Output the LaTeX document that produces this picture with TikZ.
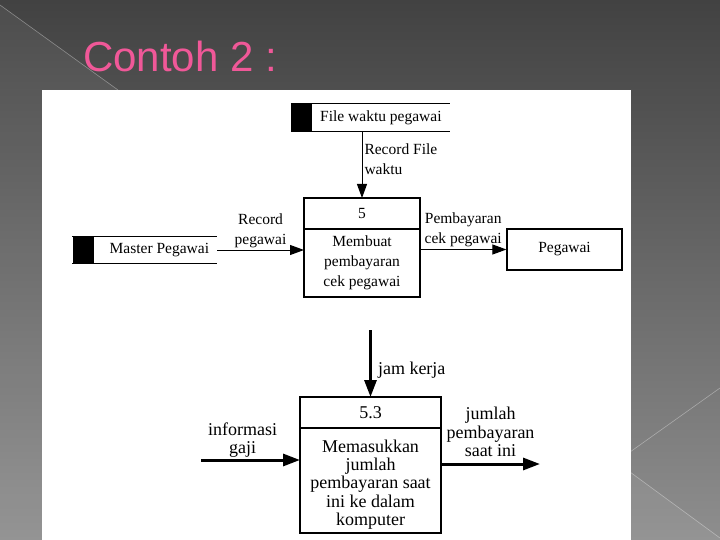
\documentclass[tikz,border=0pt]{standalone}
\usepackage{fontspec}
\setmainfont{Liberation Serif}
\newfontfamily\titlefont{Liberation Sans}
\usepackage{tikz}
\usetikzlibrary{arrows.meta, positioning}
\definecolor{slidetop}{RGB}{66,66,66}
\definecolor{slidebot}{RGB}{142,142,142}
\definecolor{titlepink}{RGB}{240,88,152}
\newcommand{\toptext}{\fontsize{15.5}{20}\selectfont}
\newcommand{\lowtext}{\fontsize{18}{18.3}\selectfont}
\tikzset{
  procid/.style={rectangle, draw, line width=1.2pt, minimum width=116pt,
    minimum height=31pt, font=\toptext, inner sep=0pt, outer sep=0pt},
  procbody/.style={procid, minimum height=68pt, align=center},
  bigid/.style={rectangle, draw, line width=2.5pt, minimum width=141pt,
    minimum height=31pt, font=\lowtext, inner sep=0pt, outer sep=0pt},
  bigbody/.style={bigid, minimum height=105pt},
  storeblk/.style={rectangle, fill=black, minimum width=21pt,
    minimum height=27pt, inner sep=0pt},
  storetxt/.style={rectangle, minimum height=27pt, inner sep=0pt, font=\toptext},
  storeline/.style={line width=1.2pt},
  extent/.style={rectangle, draw, line width=1.2pt, minimum width=115pt,
    minimum height=41pt, font=\toptext},
  flow/.style={-{Triangle[length=14pt,width=10pt]}, line width=1pt},
  bigflow/.style={-{Triangle[length=17pt,width=12pt]}, line width=3pt},
  flowlbl/.style={font=\toptext, align=center, inner sep=2pt},
  lowlbl/.style={font=\lowtext, align=center, inner sep=3pt},
}

\begin{document}
\begin{tikzpicture}[x=1pt, y=-1pt]
  \useasboundingbox (0,0) rectangle (720,540);
  % slide background
  \shade[top color=slidetop, bottom color=slidebot] (0,0) rectangle (720,540);
  \fill[white, opacity=0.06] (0,5) -- (118,90) -- (118,540) -- (0,540) -- cycle;
  \fill[white, opacity=0.06] (630,472) -- (720,538) -- (720,540) -- (630,540) -- cycle;
  \draw[white, opacity=0.35, line width=0.6pt] (0,5) -- (118,90);
  \draw[white, opacity=0.35, line width=0.6pt] (630,452) -- (720,388);
  \draw[white, opacity=0.35, line width=0.6pt] (630,472) -- (720,538);

  \node[anchor=base west, inner sep=0pt, titlepink, font=\titlefont\fontsize{42}{48}\selectfont]
    (title) at (83,72) {Contoh 2 :};

  \fill[white] (42,90) rectangle (631,540);

  % upper diagram
  \node[storeblk] (fwblk) at (301.5,117.5) {};
  \node[storetxt, right=0pt of fwblk, minimum width=137pt] (fw) {File waktu pegawai};
  \draw[storeline] (fwblk.north west) -- (fw.north east)
    (fwblk.south west) -- (fw.south east);

  \node[procid] (p5id) at (362,213.5) {5};
  \node[procbody, below=0pt of p5id] (p5body) {Membuat\\pembayaran\\cek pegawai};

  \node[storeblk] (mpblk) at (83,250) {};
  \node[storetxt, right=0pt of mpblk, minimum width=123pt] (mp) {\hspace{8pt}Master Pegawai};
  \draw[storeline] (mpblk.north west) -- (mp.north east)
    (mpblk.south west) -- (mp.south east);

  \node[extent] (peg) at (564.5,249.5) {Pegawai};

  \draw[flow] (p5id.north |- fw.south) -- (p5id.north)
    node[flowlbl, right, align=left, pos=0.42] (rfw) {Record File\\waktu};
  \draw[flow] (mp.east) -- (mp.east -| p5body.west)
    node[flowlbl, above, midway] (rpeg) {Record\\pegawai};
  \draw[flow] (peg.west -| p5body.east) -- (peg.west)
    node[flowlbl, above, midway] (bcek) {Pembayaran\\cek pegawai};

  % lower diagram
  \node[bigid] (p53id) at (370.5,412.5) {5.3};
  \node[bigbody, below=0pt of p53id] (p53body) {};
  \node[lowlbl, yshift=-4pt] (p53text) at (p53body.center)
    {Memasukkan\\jumlah\\pembayaran saat\\ini ke dalam\\komputer};

  \coordinate (jamsrc) at (370.5,330);
  \coordinate (gajisrc) at (201,460);
  \coordinate (paiddst) at (540,464);

  \draw[bigflow] (jamsrc) -- (p53id.north)
    node[lowlbl, right, pos=0.6, inner sep=6pt] (jam) {jam kerja};
  \draw[bigflow] (gajisrc) -- (gajisrc -| p53body.west)
    node[lowlbl, above, pos=0.42, inner sep=1pt] (info) {informasi\\gaji};
  \draw[bigflow] (paiddst -| p53body.east) -- (paiddst)
    node[lowlbl, above, midway, inner sep=6pt] (jml) {jumlah\\pembayaran\\saat ini};
\end{tikzpicture}
\end{document}
